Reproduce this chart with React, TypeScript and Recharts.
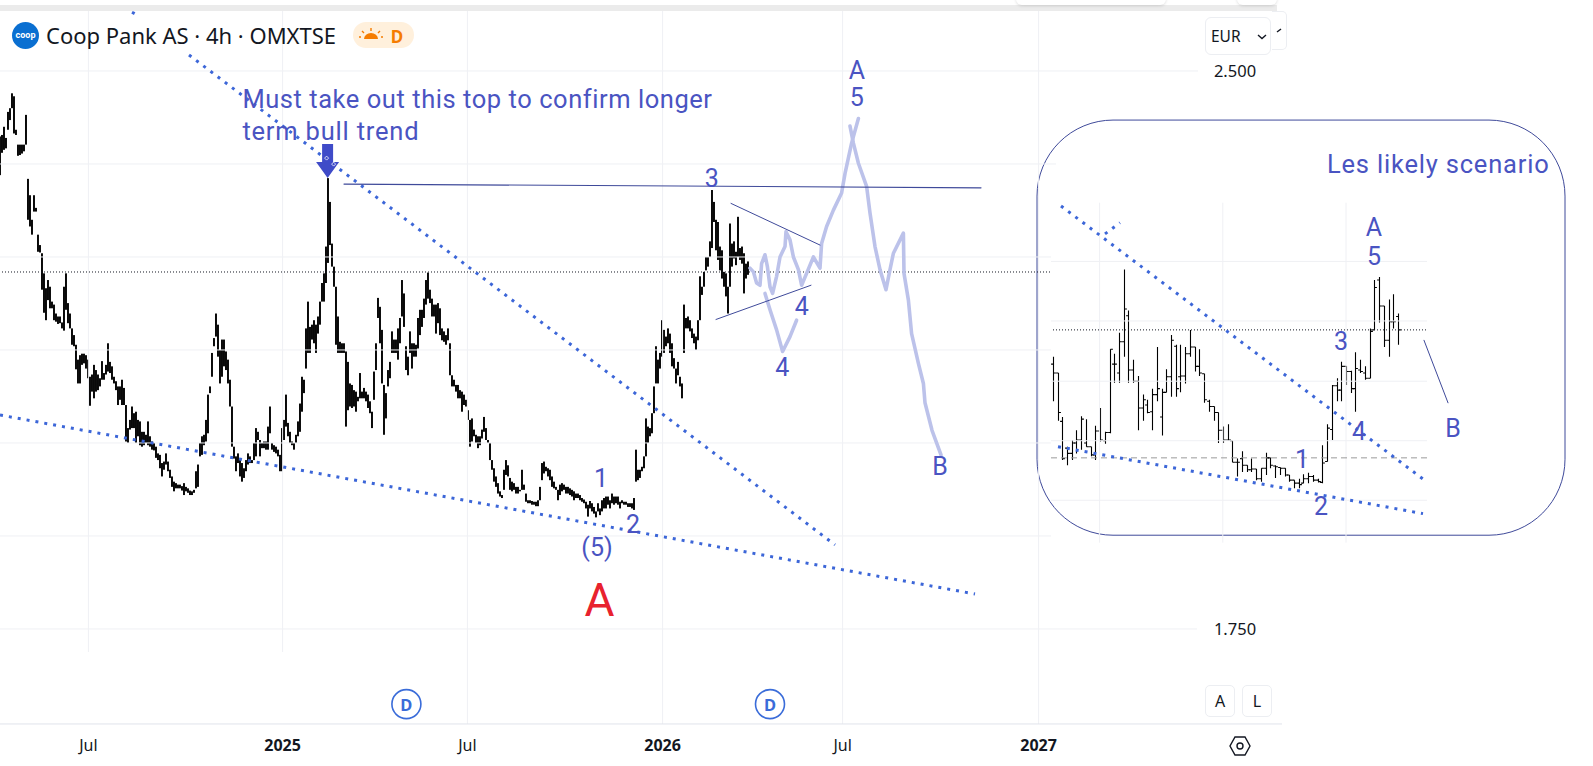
import React from "react";
import { ComposedChart, Bar, Line, XAxis, YAxis, ReferenceLine, ReferenceDot, ReferenceArea } from "recharts";

// Units: x = chart bar position, y = price in thousandths of a EUR
const W = 1593, H = 766;
const X_DOMAIN = [0, 796.5];
const Y_DOMAIN = [1565.8, 2595.4];

const mainHighs = [
2412,2414,2425,2410,2445,2450,2470,2466,2421,2401,2401,2401,2401,2441,2355,2333,2300,2333,2316,2280,
2266,2255,2228,2208,2219,2210,2190,2186,2174,2170,2170,2162,2210,2228,2188,2174,2154,2145,2132,2112,
2118,2120,2120,2118,2112,2089,2092,2105,2098,2092,2087,2110,2094,2105,2134,2109,2103,2089,2083,2076,
2076,2085,2074,2051,2020,2031,2049,2040,2042,2031,2029,2015,2015,2011,2029,2009,2002,2000,1995,1986,
1984,1973,1975,1986,1975,1964,1955,1948,1946,1944,1944,1942,1946,1941,1939,1936,1935,1937,1962,1971,
2000,2009,2011,2031,2065,
2076,2121,2141,2174,2159,2125,2139,2139,2123,2112,2085,2049,1995,1982,1986,1977,1973,1966,1977,1986,
1982,1977,2000,2020,2015,2004,2000,2002,2002,2022,2049,2000,1997,1995,1991,1984,2020,2031,2065,2027,
2015,2002,2000,2011,2029,2053,2089,2085,2154,2190,2156,2159,2165,2159,2170,2190,2215,2228,2264,2356,
2324,2268,2237,2210,2170,2136,2134,2134,2123,2109,2080,2078,2071,2069,2062,2094,2069,2074,2069,2065,
2056,2042,2096,2134,2195,2183,2152,2078,2067,2098,2109,2150,2139,2139,2154,2168,2219,2201,2130,2116,
2150,2134,2134,2132,2168,2179,2179,2194,2219,2229,2206,2194,2186,2186,2188,2181,2154,2150,2145,2154,
2134,2091,2085,2078,2078,2071,2069,2065,2058,2044,2031,2033,2018,2011,2009,2009,2018,2035,2020,2004,
2000,1977,1966,1955,1946,1935,1930,1964,1977,1970,1953,1948,1946,1941,1941,1937,1964,1944,1932,1923,
1923,1922,1921,1921,1923,1941,1973,1975,1968,1966,1964,1955,1948,1941,1937,1944,1946,1944,1941,1941,
1939,1937,1935,1932,1932,1930,1926,1924,1921,1917,1922,1919,1914,1908,1919,1912,1923,1926,1928,1928,
1923,1932,1928,1928,1928,1921,1923,1921,1921,1919,1919,1919,1926,
1991,1964,1964,1968,1982,2033,2022,2020,2040,2076,2130,2112,2121,2165,2152,2143,2154,2147,2134,2114,
2100,2109,2089,2080,2186,2168,2170,2165,2154,2147,2143,2165,2224,2210,2230,2250,2250,2271,2340,2324,
2300,2297,2264,2259,2230,2228,2210,2295,2268,2271,2257,2304,2262,2264,2255,2241,2244,
];
const mainLows = [
2360,2390,2394,2396,2421,2434,2450,2416,2414,2386,2387,2389,2392,2401,2300,2291,2280,2311,2311,2257,
2256,2206,2175,2165,2192,2181,2181,2165,2163,2160,2161,2154,2151,2179,2161,2154,2132,2130,2099,2080,
2080,2105,2107,2100,2087,2050,2069,2060,2069,2071,2076,2085,2085,2092,2096,2094,2085,2080,2071,2051,
2058,2051,2051,2002,2000,2018,2020,2020,2000,2009,1997,1995,1997,2000,1997,1995,1991,1990,1980,1977,
1966,1955,1964,1971,1962,1953,1941,1935,1939,1939,1939,1936,1930,1935,1933,1930,1930,1933,1939,1941,
1982,1984,1997,2002,2013,
2067,2089,2130,2143,2116,2080,2089,2103,2098,2080,2049,1995,1979,1962,1973,1955,1948,1953,1962,1971,
1973,1973,1977,1982,2004,1982,1993,1993,1991,1991,2013,1991,1988,1986,1982,1962,1962,2004,2022,2009,
2000,1997,1991,2000,2009,2015,2042,2067,2100,2121,2121,2139,2134,2121,2147,2159,2190,2190,2215,2242,
2266,2237,2210,2132,2121,2121,2121,2121,2022,2044,2049,2047,2049,2042,2056,2060,2060,2060,2056,2047,
2040,2020,2058,2098,2168,2134,2080,2011,2033,2076,2087,2121,2121,2121,2112,2134,2170,2156,2098,2091,
2121,2100,2116,2116,2127,2145,2156,2168,2186,2194,2188,2170,2170,2147,2161,2145,2138,2136,2132,2138,
2091,2076,2076,2069,2060,2060,2042,2051,2049,2031,1995,2002,2009,2000,1993,1997,2006,2015,2004,2000,
1977,1964,1948,1941,1932,1928,1926,1937,1957,1955,1937,1935,1937,1932,1932,1935,1937,1937,1921,1919,
1919,1917,1917,1915,1915,1923,1950,1959,1962,1955,1950,1941,1939,1937,1923,1930,1935,1937,1932,1932,
1930,1928,1923,1926,1926,1923,1921,1919,1912,1901,1912,1908,1905,1900,1908,1903,1908,1912,1912,1917,
1912,1919,1917,1919,1917,1912,1919,1917,1917,1914,1914,1912,1910,
1948,1950,1953,1962,1966,1982,2000,2009,2013,2040,2080,2080,2100,2116,2121,2130,2134,2121,2103,2100,
2080,2091,2076,2060,2121,2154,2154,2150,2141,2134,2125,2138,2165,2199,2210,2232,2237,2250,2262,2297,
2259,2246,2232,2221,2210,2197,2174,2210,2237,2248,2239,2250,2246,2241,2201,2221,2226,
];

const insetHighs = [2116,2094,2035,1995,2004,2017,2036,2032,1995,2023,2047,2015,2126,2120,2148,2233,2178,2112,2090,2065,2058,2073,2129,2073,2099,2145,2132,2132,2129,2152,2129,2126,2093,2058,2049,2041,2022,2025,2003,1979,1989,1970,1979,1965,1966,1987,1980,1970,1967,1966,1957,1950,1952,1958,1960,1957,1952,1997,2025,2078,2087,2109,2103,2097,2122,2112,2103,2154,2219,2223,2184,2193,2200,2174];
const insetLows = [2056,2030,1977,1970,1977,1986,1991,1995,1982,1977,2002,1999,2013,2081,2081,2116,2081,2081,2017,2030,2040,2017,2056,2010,2068,2062,2062,2068,2080,2116,2096,2090,2054,2042,2030,2000,2000,2003,1974,1955,1961,1961,1961,1950,1948,1957,1966,1953,1957,1955,1948,1939,1939,1946,1946,1948,1947,1946,1975,2004,2056,2056,2078,2067,2042,2094,2085,2087,2152,2162,2129,2116,2154,2132];
const insetOpens = [2106,2094,2029,1993,1986,2000,2004,2000,1995,1984,2016,2003,2014,2106,2094,2136,2171,2098,2083,2047,2051,2042,2065,2035,2068,2089,2130,2089,2090,2120,2129,2103,2093,2056,2049,2041,2017,2004,2003,1974,1979,1970,1964,1965,1952,1966,1980,1969,1967,1966,1957,1950,1946,1946,1952,1955,1950,1947,1975,2018,2077,2071,2103,2096,2073,2098,2094,2087,2152,2219,2184,2138,2163,2170];
const insetCloses = [2094,2041,1979,1986,2000,2004,2032,1995,1984,2016,2004,2014,2126,2106,2136,2180,2098,2083,2047,2058,2041,2065,2073,2068,2089,2138,2073,2090,2120,2129,2103,2094,2058,2049,2041,2017,2004,2004,1974,1974,1970,1964,1965,1952,1966,1980,1970,1968,1966,1957,1950,1946,1944,1952,1955,1950,1948,1973,2020,2077,2071,2103,2096,2073,2100,2096,2087,2150,2209,2184,2138,2163,2163,2152];
const INSET_FIRST = 526.4, INSET_LAST = 699;

const trendUpperA = [{ bar: 66, y: 2579 }, { bar: 69.5, y: 2574 }];
const trendUpperB = [{ bar: 94.5, y: 2521.5 }, { bar: 417.5, y: 1863 }];
const trendLower = [{ bar: 0, y: 2037.6 }, { bar: 487.5, y: 1797 }];
const topLine = [{ bar: 172, y: 2348 }, { bar: 490.5, y: 2343 }];
const triUpper = [{ bar: 365.5, y: 2322 }, { bar: 410, y: 2266 }];
const triLower = [{ bar: 358, y: 2166 }, { bar: 405.5, y: 2212 }];

const forecastUp = [[375,2235],[376.7,2230],[378.3,2215],[380,2212],[380.8,2241],[382.5,2253],[383.7,2237],[385,2210],[386.3,2201],[388.3,2224],[390,2250],[392.5,2264],[393,2284],[395,2273],[396.7,2250],[399.2,2233],[400.8,2212],[403.3,2228],[406.7,2250],[410,2235],[410.8,2268],[413.3,2291],[416.7,2313],[420.8,2336],[422.5,2362],[425.8,2403],[429.2,2436]].map(([bar, y]) => ({ bar, y }));
const forecastDown = [[425,2426],[426.7,2403],[429.2,2376],[433.3,2345],[435,2309],[437.5,2264],[440,2233],[443,2206],[445,2233],[446.7,2255],[451.7,2282],[452,2228],[454.2,2192],[455.8,2147],[459.2,2107],[461.7,2080],[462.5,2054],[466,2017],[470.5,1984]].map(([bar, y]) => ({ bar, y }));
const forecastAlt = [[382.5,2201],[385,2179],[388.3,2152],[391.3,2123],[395,2143],[398.3,2165]].map(([bar, y]) => ({ bar, y }));

const insetUpper = [{ bar: 530.5, y: 2318.5 }, { bar: 713.5, y: 1947.5 }];
const insetStub = [{ bar: 552.5, y: 2281 }, { bar: 560, y: 2296 }];
const insetLower = [{ bar: 529, y: 1995 }, { bar: 711.5, y: 1905 }];
const insetToB = [{ bar: 712, y: 2138 }, { bar: 724, y: 2054 }];

const GRID_COLOR = "#eff0f4";
const mainGridPrices = [2500, 2375, 2250, 2125, 2000, 1875, 1750];
const mainGridEnds = [599, 528, 525.5, 525.5, 525.5, 525.5, 598.5];
const monthTicks = [44.2, 141.3, 233.7, 331.3, 421.3, 519.3];
const monthLabels = ["Jul", "2025", "Jul", "2026", "Jul", "2027"];
const monthGridBottom = [1719, 1719, 1622.3, 1622.3, 1622.3, 1622.3];
const insetGridPrices = [2244, 2164, 2083, 2003, 1923];
const insetGridBars = [549.8, 611.4, 673];
const priceTicks = [2500, 1750];
const dividendBars = [203.2, 385];
const LAST_PRICE = 2229.8;

const BLUE = "#4a54c2";
const labels = [
  { x: 121.2, y: 2462.3, t: "Must take out this top to confirm longer", s: 25.5, a: "start", c: BLUE },
  { x: 121.2, y: 2419.3, t: "term bull trend", s: 25.5, a: "start", c: BLUE },
  { x: 355.9, y: 2356, t: "3", s: 25, a: "middle", c: BLUE },
  { x: 428.4, y: 2501, t: "A", s: 25, a: "middle", c: BLUE },
  { x: 428.4, y: 2465, t: "5", s: 25, a: "middle", c: BLUE },
  { x: 400.9, y: 2183, t: "4", s: 25, a: "middle", c: BLUE },
  { x: 391.2, y: 2101, t: "4", s: 25, a: "middle", c: BLUE },
  { x: 470, y: 1968, t: "B", s: 25, a: "middle", c: BLUE },
  { x: 300.5, y: 1952, t: "1", s: 25, a: "middle", c: BLUE },
  { x: 316.5, y: 1890, t: "2", s: 25, a: "middle", c: BLUE },
  { x: 298.5, y: 1860, t: "(5)", s: 25, a: "middle", c: BLUE },
  { x: 299.7, y: 1789, t: "A", s: 46, a: "middle", c: "#e8222e" },
  { x: 663.5, y: 2375, t: "Les likely scenario", s: 25.5, a: "start", c: BLUE },
  { x: 687, y: 2289, t: "A", s: 25, a: "middle", c: BLUE },
  { x: 687, y: 2250, t: "5", s: 25, a: "middle", c: BLUE },
  { x: 670.5, y: 2136, t: "3", s: 25, a: "middle", c: BLUE },
  { x: 679.5, y: 2015, t: "4", s: 25, a: "middle", c: BLUE },
  { x: 651, y: 1978, t: "1", s: 25, a: "middle", c: BLUE },
  { x: 660.5, y: 1915, t: "2", s: 25, a: "middle", c: BLUE },
  { x: 726.5, y: 2019, t: "B", s: 25, a: "middle", c: BLUE },
];

const mainRows = mainHighs.map((h, i) => ({ bar: i, range: [mainLows[i], h] }));
const insetRows = insetHighs.map((h, i) => ({
  bar: INSET_FIRST + (i * (INSET_LAST - INSET_FIRST)) / (insetHighs.length - 1),
  range: [insetLows[i], h],
  high: h,
  low: insetLows[i],
  open: insetOpens[i],
  close: insetCloses[i],
}));
const rows = [...mainRows, ...insetRows];

function BarShape(p: any) {
  const top = Math.min(p.y, p.y + p.height);
  const h = Math.abs(p.height);
  const row = p.payload;
  const mid = p.x + p.width / 2;
  if (row.open == null) return <rect x={mid - 0.95} y={top} width={1.9} height={Math.max(h, 1)} fill="#000" />;
  const cx = Math.round(mid) + 0.5;
  const span = row.high - row.low || 1;
  const yo = top + ((row.high - row.open) / span) * h;
  const yc = top + ((row.high - row.close) / span) * h;
  return <path d={`M${cx} ${top}V${top + h}M${cx - 2.4} ${yo}H${cx}M${cx} ${yc}H${cx + 2.4}`} stroke="#000" strokeWidth={1.1} fill="none" />;
}

const line = (key: string, data: any[], stroke: string, width: number, dash?: string, opacity = 1) => (
  <Line key={key} data={data} dataKey="y" type="linear" stroke={stroke} strokeWidth={width} strokeDasharray={dash} strokeOpacity={opacity}
    dot={false} activeDot={false} isAnimationActive={false} legendType="none" strokeLinejoin="round" strokeLinecap={dash ? "butt" : "round"} />
);

const NAVY = "#3f4a9a";
const DOT_BLUE = "#3c66d8";
const DOTS = "3 6";
const SKETCH = "#bcc2ea";

function XTick(p: any) {
  const i = monthTicks.indexOf(p.payload.value);
  const year = monthLabels[i] !== "Jul";
  return (
    <text x={p.x} y={745} textAnchor="middle" dominantBaseline="central" fontFamily="'Noto Sans', sans-serif" fontSize={16} fontWeight={year ? 700 : 400} fill="#131722">
      {monthLabels[i]}
    </text>
  );
}
function YTick(p: any) {
  return (
    <text x={1235} y={p.y} textAnchor="middle" dominantBaseline="central" fontFamily="'Noto Sans', sans-serif" fontSize={16.5} fill="#131722">
      {(p.payload.value / 1000).toFixed(3)}
    </text>
  );
}

export default function App() {
  return (
    <div style={{ position: "absolute", left: 0, top: 0, width: W, height: H, background: "#fff", overflow: "hidden" }}>
      <ComposedChart width={W} height={H} data={rows} margin={{ top: 0, right: 0, bottom: 0, left: 0 }} barSize={1.6}>
        <XAxis dataKey="bar" type="number" scale="linear" domain={X_DOMAIN} ticks={monthTicks} interval={0} height={1} mirror axisLine={false} tickLine={false} tick={<XTick />} />
        <YAxis type="number" scale="linear" domain={Y_DOMAIN} ticks={priceTicks} width={1} mirror axisLine={false} tickLine={false} tick={<YTick />} />
        {mainGridPrices.map((v, i) => (
          <ReferenceLine key={"g" + v} segment={[{ x: 0, y: v }, { x: mainGridEnds[i], y: v }]} stroke={GRID_COLOR} strokeWidth={1} />
        ))}
        {monthTicks.map((m, i) => (
          <ReferenceLine key={"v" + m} segment={[{ x: m, y: 2586 }, { x: m, y: monthGridBottom[i] }]} stroke={GRID_COLOR} strokeWidth={1} />
        ))}
        {insetGridPrices.map((v) => (
          <ReferenceLine key={"ig" + v} segment={[{ x: 525.5, y: v }, { x: 713.5, y: v }]} stroke={GRID_COLOR} strokeWidth={1} />
        ))}
        {insetGridBars.map((b) => (
          <ReferenceLine key={"iv" + b} segment={[{ x: b, y: 2323 }, { x: b, y: 1866 }]} stroke={GRID_COLOR} strokeWidth={1} />
        ))}
        <ReferenceLine segment={[{ x: 0, y: 1622.3 }, { x: 641, y: 1622.3 }]} stroke="#e0e3eb" strokeWidth={1} />
        <ReferenceLine segment={[{ x: 1, y: LAST_PRICE }, { x: 525.5, y: LAST_PRICE }]} stroke="#131722" strokeWidth={1} strokeDasharray="1 2" />
        <ReferenceLine segment={[{ x: 526.5, y: 2152 }, { x: 713.5, y: 2152 }]} stroke="#131722" strokeWidth={1} strokeDasharray="1 2" />
        <ReferenceLine segment={[{ x: 525.5, y: 1980 }, { x: 713.5, y: 1980 }]} stroke="#9a9a9a" strokeWidth={1} strokeDasharray="6 4" />
        <ReferenceArea x1={518.5} x2={782.5} y1={1876} y2={2434} shape={(p: any) => (
          <rect x={p.x} y={p.y} width={p.width} height={p.height} rx={76} ry={76} fill="none" stroke={NAVY} strokeWidth={1} />
        )} />
        <Bar dataKey="range" isAnimationActive={false} shape={<BarShape />} legendType="none" />
        {line("fu", forecastUp, SKETCH, 3.6)}
        {line("fd", forecastDown, SKETCH, 3.6)}
        {line("fa", forecastAlt, SKETCH, 3.6)}
        {line("ta", trendUpperA, DOT_BLUE, 3, DOTS)}
        {line("tb", trendUpperB, DOT_BLUE, 3, DOTS)}
        {line("tl", trendLower, DOT_BLUE, 3, DOTS)}
        {line("top", topLine, NAVY, 1.2)}
        {line("tu", triUpper, NAVY, 1)}
        {line("tw", triLower, NAVY, 1)}
        {line("iu", insetUpper, DOT_BLUE, 3, DOTS)}
        {line("is", insetStub, DOT_BLUE, 3, DOTS)}
        {line("il", insetLower, DOT_BLUE, 3, DOTS)}
        {line("ib", insetToB, NAVY, 1)}
        <ReferenceDot x={163.8} y={2356} r={0} shape={(p: any) => (
          <g>
            <path d={`M${p.cx - 5.5} ${p.cy - 34}h11v18h6l-11.5 16l-11.5 -16h6z`} fill="#3f4bc8" />
            <path d={`M${p.cx - 1} ${p.cy - 22}l2 2l-2 2l-2 -2zM${p.cx + 6} ${p.cy - 16}l2 2l-2 2l-2 -2z`} fill="none" stroke="#fff" strokeWidth={0.8} />
          </g>
        )} />
        {dividendBars.map((b) => (
          <ReferenceDot key={"d" + b} x={b} y={1649} r={0} shape={(p: any) => (
            <g>
              <circle cx={p.cx} cy={p.cy} r={14.5} fill="#fff" stroke="#3a6cd9" strokeWidth={1.6} />
              <text x={p.cx} y={p.cy} textAnchor="middle" dominantBaseline="central" fontFamily="'Noto Sans', sans-serif" fontWeight={700} fontSize={16.5} fill="#3a6cd9">D</text>
            </g>
          )} />
        ))}
        {labels.map((l, i) => (
          <ReferenceDot key={"l" + i} x={l.x} y={l.y} r={0} shape={(p: any) => (
            <text x={p.cx} y={p.cy} textAnchor={l.a as any} dominantBaseline="central" fontFamily="Roboto, sans-serif" fontSize={l.s} letterSpacing={l.t.length > 20 ? 0.55 : l.t.length > 3 ? 0.8 : 0} fill={l.c}>{l.t}</text>
          )} />
        ))}
      </ComposedChart>

      {/* chrome */}
      <div style={{ position: "absolute", left: 0, top: 5, width: 1277, height: 6, background: "#ebebeb" }} />
      <div style={{ position: "absolute", left: 1016, top: -8, width: 150, height: 13, background: "#fff", borderRadius: 6, boxShadow: "0 1px 3px #0002" }} />
      <div style={{ position: "absolute", left: 1237, top: -8, width: 40, height: 13, background: "#fff", borderRadius: 6, boxShadow: "0 1px 3px #0002" }} />
      <div style={{ position: "absolute", left: 12, top: 21.5, width: 27, height: 27, borderRadius: "50%", background: "#0a6fd1", color: "#fff", fontFamily: "Roboto, sans-serif", fontSize: 9, fontWeight: 700, textAlign: "center", lineHeight: "27px" }}>coop</div>
      <div style={{ position: "absolute", left: 46, top: 19, fontFamily: "'Noto Sans', sans-serif", fontSize: 22, lineHeight: "32px", color: "#131722", whiteSpace: "nowrap" }}>Coop Pank AS · 4h · OMXTSE</div>
      <div style={{ position: "absolute", left: 353, top: 22, width: 61, height: 26, borderRadius: 13, background: "#fff0dc" }}>
        <svg width={61} height={26} style={{ position: "absolute", left: 0, top: 0 }}>
          <path d="M11 17a7 6 0 0 1 14 0z" fill="#f57c00" />
          <path d="M18 6v3M9 9l2 2M27 9l-2 2M6 15h2M28 15h2" stroke="#f57c00" strokeWidth={1.4} />
          <text x={44} y={14} textAnchor="middle" dominantBaseline="central" fontFamily="'Noto Sans', sans-serif" fontWeight={700} fontSize={17} fill="#f57c00">D</text>
        </svg>
      </div>
      <div style={{ position: "absolute", left: 1205, top: 17, width: 66, height: 38, boxSizing: "border-box", border: "1px solid #eceef2", borderRadius: 6, fontFamily: "'Noto Sans', sans-serif", fontSize: 15.5, lineHeight: "36px", paddingLeft: 5, color: "#131722" }}>EUR</div>
      <svg width={12} height={8} style={{ position: "absolute", left: 1256, top: 33 }}><path d="M2 2l4 3.5L10 2" fill="none" stroke="#131722" strokeWidth={1.4} /></svg>
      <div style={{ position: "absolute", left: 1272, top: 11, width: 15, height: 39, boxSizing: "border-box", border: "1px solid #eceef2", borderLeft: "none", borderRadius: "0 5px 5px 0" }} />
      <svg width={8} height={8} style={{ position: "absolute", left: 1276, top: 27 }}><path d="M1 5l4 -3" fill="none" stroke="#131722" strokeWidth={1.4} /></svg>
      {[{ t: "A", x: 1205 }, { t: "L", x: 1242 }].map((b) => (
        <div key={b.t} style={{ position: "absolute", left: b.x, top: 685, width: 30, height: 32, boxSizing: "border-box", border: "1px solid #eceef2", borderRadius: 5, textAlign: "center", lineHeight: "30px", fontFamily: "'Noto Sans', sans-serif", fontSize: 16, color: "#131722" }}>{b.t}</div>
      ))}
      <svg width={24} height={24} style={{ position: "absolute", left: 1228, top: 734 }}>
        <path d="M7 3h10l5 9l-5 9H7l-5 -9z" fill="none" stroke="#131722" strokeWidth={1.4} />
        <circle cx={12} cy={12} r={3} fill="none" stroke="#131722" strokeWidth={1.4} />
      </svg>
    </div>
  );
}
